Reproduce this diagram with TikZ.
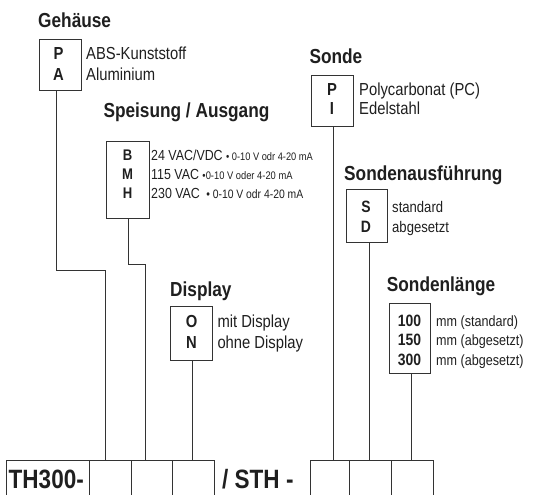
\documentclass[tikz,border=0pt]{standalone}
\usepackage{fontspec}
\setmainfont[FakeStretch=0.85]{Liberation Sans}
\begin{document}
\begin{tikzpicture}[x=1pt,y=-1pt,
  title/.style={anchor=base west,inner sep=0pt,font=\fontsize{20.3}{20}\selectfont\bfseries,text=black!88},
  box/.style={draw=black!80,line width=0.9pt,inner sep=0pt},
  code/.style={anchor=base,inner sep=0pt,font=\bfseries,text=black!88},
  desc/.style={anchor=base west,inner sep=0pt,text=black!88},
  wire/.style={draw=black!80,line width=0.9pt}]
\useasboundingbox (0,0) rectangle (534,494);
\clip (0,0) rectangle (534,494);
% ---- Gehaeuse
\node[title] (tG) at (38,28) {Gehäuse};
\node[box,minimum width=42.4pt,minimum height=51.7pt] (bG) at (60.5,64.9) {};
\begin{scope}[every node/.append style={font=\fontsize{17.4}{17}\selectfont}]
\node[code,font=\fontsize{17.4}{17}\selectfont\bfseries] (gP) at (58.5,59.5) {P};
\node[code,font=\fontsize{17.4}{17}\selectfont\bfseries] (gA) at (58.5,80.5) {A};
\node[desc] (gt1) at (86,59.5) {ABS-Kunststoff};
\node[desc] (gt2) at (86,80.5) {Aluminium};
\end{scope}
% ---- Speisung / Ausgang
\node[title] (tB) at (103.3,117.3) {Speisung / Ausgang};
\node[box,minimum width=42.6pt,minimum height=76.6pt] (bB) at (128,180) {};
\begin{scope}[every node/.append style={font=\fontsize{14.6}{14}\selectfont}]
\node[code,font=\fontsize{15.4}{14}\selectfont\bfseries] (bBl) at (127.5,161) {B};
\node[code,font=\fontsize{15.4}{14}\selectfont\bfseries] (bMl) at (127.5,179.5) {M};
\node[code,font=\fontsize{15.4}{14}\selectfont\bfseries] (bHl) at (127.5,198) {H};
\node[desc] (bt1) at (151,161) {24 VAC/VDC \fontsize{10.9}{10}\selectfont • 0-10 V odr 4-20 mA};
\node[desc] (bt2) at (151,179.5) {115 VAC \fontsize{11}{10}\selectfont •0-10 V oder 4-20 mA};
\node[desc] (bt3) at (151,198) {230 VAC \fontsize{12.2}{10}\selectfont\ • 0-10 V odr 4-20 mA};
\end{scope}
% ---- Sonde
\node[title] (tS) at (309.3,63.3) {Sonde};
\node[box,minimum width=41.6pt,minimum height=51pt] (bS) at (332.5,100.5) {};
\begin{scope}[every node/.append style={font=\fontsize{17.4}{17}\selectfont}]
\node[code,font=\fontsize{17.4}{17}\selectfont\bfseries] (sP) at (332,96) {P};
\node[code,font=\fontsize{17.4}{17}\selectfont\bfseries] (sI) at (332,115) {I};
\node[desc] (st1) at (359,96) {Polycarbonat (PC)};
\node[desc] (st2) at (359,115) {Edelstahl};
\end{scope}
% ---- Sondenausfuehrung
\node[title] (tA) at (344,181) {Sondenausführung};
\node[box,minimum width=40.5pt,minimum height=53.7pt] (bA) at (366.75,215.85) {};
\begin{scope}[every node/.append style={font=\fontsize{15.4}{15}\selectfont}]
\node[code,font=\fontsize{16.4}{15}\selectfont\bfseries] (aS) at (366,212) {S};
\node[code,font=\fontsize{16.4}{15}\selectfont\bfseries] (aD) at (366,232) {D};
\node[desc] (at1) at (392,212) {standard};
\node[desc] (at2) at (392,232) {abgesetzt};
\end{scope}
% ---- Display
\node[title] (tD) at (170,296.7) {Display};
\node[box,minimum width=41.6pt,minimum height=54pt] (bD) at (191.5,333) {};
\begin{scope}[every node/.append style={font=\fontsize{17.4}{17}\selectfont}]
\node[code,font=\fontsize{17.4}{17}\selectfont\bfseries] (dO) at (191.5,327.5) {O};
\node[code,font=\fontsize{17.4}{17}\selectfont\bfseries] (dN) at (191.5,348.5) {N};
\node[desc] (dt1) at (217.3,327.5) {mit Display};
\node[desc] (dt2) at (217.3,348.5) {ohne Display};
\end{scope}
% ---- Sondenlaenge
\node[title] (tL) at (386.7,291.7) {Sondenlänge};
\node[box,minimum width=41.4pt,minimum height=70pt] (bL) at (410,338.3) {};
\begin{scope}[every node/.append style={font=\fontsize{14.8}{14}\selectfont}]
\node[code,font=\fontsize{16.4}{15}\selectfont\bfseries] (l1) at (409.5,326) {100};
\node[code,font=\fontsize{16.4}{15}\selectfont\bfseries] (l2) at (409.5,345.5) {150};
\node[code,font=\fontsize{16.4}{15}\selectfont\bfseries] (l3) at (409.5,365) {300};
\node[desc] (lt1) at (436,326) {mm (standard)};
\node[desc] (lt2) at (436,345.5) {mm (abgesetzt)};
\node[desc] (lt3) at (436,365) {mm (abgesetzt)};
\end{scope}
% ---- bottom row
\node[box,minimum width=83.5pt,minimum height=60pt,anchor=north west] (th) at (5.5,459.5) {};
\node[anchor=west,inner sep=0pt,font=\fontsize{26.5}{26}\selectfont\bfseries,text=black!88] (thl) at (8.5,479) {TH300-};
\node[box,minimum width=41.8pt,minimum height=60pt,anchor=north west] (c1) at (89,459.5) {};
\node[box,minimum width=41pt,minimum height=60pt,anchor=north west] (c2) at (130.8,459.5) {};
\node[box,minimum width=42.2pt,minimum height=60pt,anchor=north west] (c3) at (171.8,459.5) {};
\node[anchor=west,inner sep=0pt,font=\fontsize{26.5}{26}\selectfont\bfseries,text=black!88] (sth) at (222,479) {/ STH -};
\node[box,minimum width=39pt,minimum height=60pt,anchor=north west] (c4) at (310,459.5) {};
\node[box,minimum width=41.6pt,minimum height=60pt,anchor=north west] (c5) at (349,459.5) {};
\node[box,minimum width=42.4pt,minimum height=60pt,anchor=north west] (c6) at (390.6,459.5) {};
% ---- connectors
\coordinate (kG1) at (56,270);
\coordinate (kG2) at (105.8,270);
\coordinate (kB1) at (128,264);
\coordinate (kB2) at (145.5,264);
\draw[wire] (bG.south -| kG1) -- (kG1) -- (kG2) -- (c1.north -| kG2);
\draw[wire] (bB.south -| kB1) -- (kB1) -- (kB2) -- (c2.north -| kB2);
\draw[wire] (bD.south -| 192,0) -- (c3.north -| 192,0);
\draw[wire] (bS.south -| 333,0) -- (c4.north -| 333,0);
\draw[wire] (bA.south -| 369,0) -- (c5.north -| 369,0);
\draw[wire] (bL.south -| 411.5,0) -- (c6.north -| 411.5,0);
\end{tikzpicture}
\end{document}
